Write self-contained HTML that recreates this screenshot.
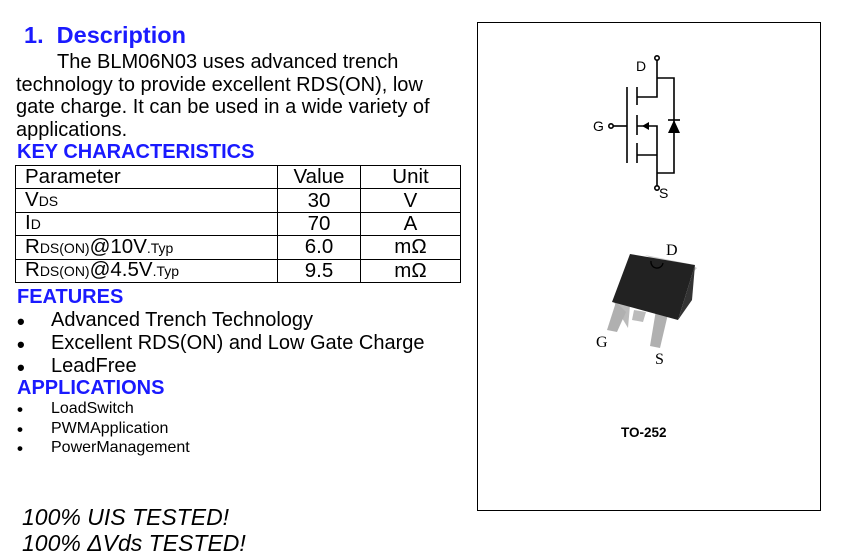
<!DOCTYPE html>
<html><head><meta charset="utf-8"><style>
body{margin:0;width:854px;height:560px;background:#fff;position:relative;overflow:hidden;font-family:"Liberation Sans",Arial,sans-serif;color:#000}
.a{position:absolute;white-space:nowrap}
.h{color:#1a1aff;font-weight:bold}
.t{font-size:20px}
table{position:absolute;left:15px;top:165px;border-collapse:collapse;font-size:20.5px}
td{border:1.3px solid #000;padding:0 0 0 9px;height:22.4px;line-height:20px}
td.c{text-align:center;padding:0}
small{font-size:14px}
</style></head><body>
<div class="a h" style="left:24px;top:22px;font-size:23.5px">1.&nbsp;&nbsp;Description</div>
<div class="a t" style="left:16px;top:51px;line-height:22.7px"><span style="padding-left:41px"></span>The BLM06N03 uses advanced trench<br>technology to provide excellent RDS(ON), low<br>gate charge. It can be used in a wide variety of<br>applications.</div>
<div class="a h" style="left:17px;top:141px;font-size:20px">KEY CHARACTERISTICS</div>
<table>
<tr><td style="width:252px">Parameter</td><td class="c" style="width:82px">Value</td><td class="c" style="width:99px">Unit</td></tr>
<tr><td>V<small>DS</small></td><td class="c">30</td><td class="c">V</td></tr>
<tr><td>I<small>D</small></td><td class="c">70</td><td class="c">A</td></tr>
<tr><td>R<small>DS(ON)</small>@10V<small>.Typ</small></td><td class="c">6.0</td><td class="c">mΩ</td></tr>
<tr><td>R<small>DS(ON)</small>@4.5V<small>.Typ</small></td><td class="c">9.5</td><td class="c">mΩ</td></tr>
</table>
<div class="a h" style="left:17px;top:286px;font-size:20px">FEATURES</div>
<div class="a" style="left:17px;top:310px;line-height:23px;font-size:22px;font-weight:bold">•<br>•<br>•</div>
<div class="a t" style="left:51px;top:309px;line-height:23px">Advanced Trench Technology<br>Excellent RDS(ON) and Low Gate Charge<br>LeadFree</div>
<div class="a h" style="left:17px;top:377px;font-size:20px">APPLICATIONS</div>
<div class="a" style="left:17px;top:400px;font-size:17px;line-height:19.5px;font-weight:bold">•<br>•<br>•</div>
<div class="a" style="left:51px;top:399px;font-size:16px;line-height:19.5px">LoadSwitch<br>PWMApplication<br>PowerManagement</div>
<div class="a" style="left:22px;top:504px;font-size:23px;font-style:italic;line-height:26px">100% UIS TESTED!<br>100% ΔVds TESTED!</div>
<div class="a" style="left:477px;top:22px;width:342px;height:487px;border:1px solid #000"></div>
<svg class="a" style="left:0;top:0" width="854" height="560" viewBox="0 0 854 560">
<g stroke="#000" stroke-width="1.6" fill="none">
<circle cx="657" cy="58" r="2.2"/>
<circle cx="611" cy="126" r="2.2"/>
<circle cx="657" cy="188" r="2.2"/>
<polyline points="657,60 657,97 637,97"/>
<polyline points="657,78 674,78 674,173 657,173"/>
<polyline points="637,126 657,126 657,186"/>
<line x1="637" y1="155" x2="657" y2="155"/>
<line x1="613" y1="126" x2="627" y2="126"/>
<line x1="627" y1="87" x2="627" y2="163"/>
<line x1="637" y1="87" x2="637" y2="105"/>
<line x1="637" y1="115" x2="637" y2="135"/>
<line x1="637" y1="143" x2="637" y2="163"/>
<line x1="668" y1="120" x2="680" y2="120"/>
</g>
<polygon points="674,120 668,133 680,133" fill="#000"/>
<polygon points="642,126 649,122 649,130" fill="#000"/>
<text x="636" y="71" font-size="14" font-family="Liberation Sans">D</text>
<text x="593" y="131" font-size="14" font-family="Liberation Sans">G</text>
<text x="659" y="198" font-size="14" font-family="Liberation Sans">S</text>
<polygon points="645,255 690,264 697,268 688,278" fill="#ccc"/>
<polygon points="614,302 622,318 628,328 630,305" fill="#bbb"/>
<polygon points="616,302 607,330 617,332 626,312" fill="#b0b0b0"/>
<polygon points="656,310 650,346 660,348 668,314" fill="#b0b0b0"/>
<polygon points="634,310 632,320 643,322 646,312" fill="#bbb"/>
<polygon points="630,254 695,265 678,320 612,302" fill="#222"/>
<polygon points="695,265 692,300 678,320" fill="#333"/>
<path d="M651,261 a6,6 0 0 0 12,2" stroke="#000" fill="none" stroke-width="1.3"/>
<text x="666" y="255" font-size="16" font-family="Liberation Serif">D</text>
<text x="596" y="347" font-size="16" font-family="Liberation Serif">G</text>
<text x="655" y="364" font-size="16" font-family="Liberation Serif">S</text>
<text x="621" y="437" font-size="13.5" font-weight="bold" font-family="Liberation Sans">TO-252</text>
</svg>
</body></html>
